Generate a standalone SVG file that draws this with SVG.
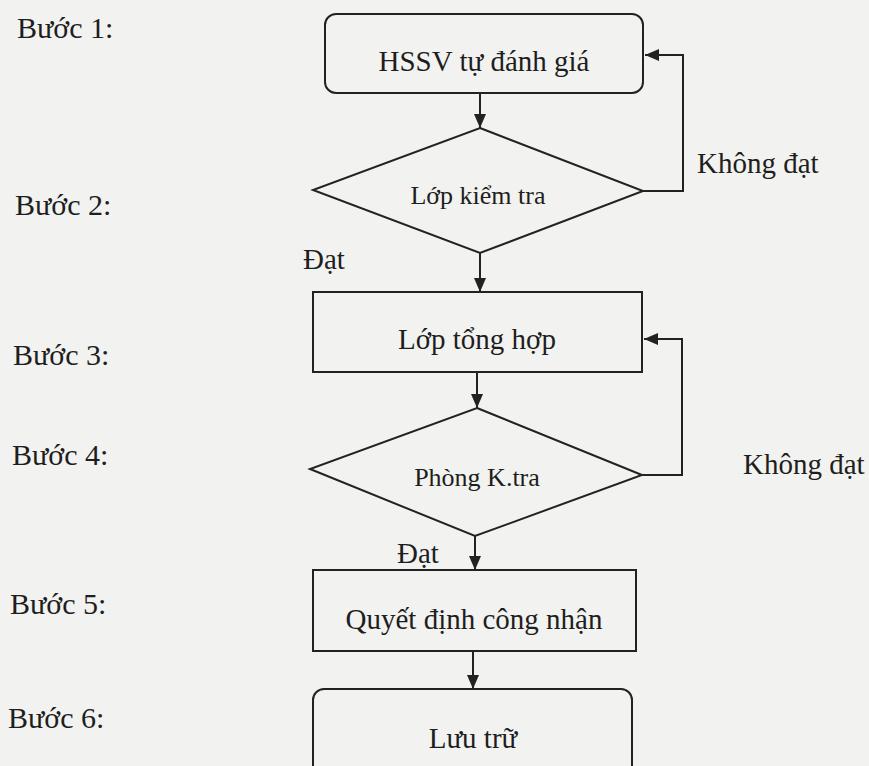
<svg xmlns="http://www.w3.org/2000/svg" width="869" height="766" viewBox="0 0 869 766">
<style>
.bg{fill:#f2f2f0}
.shape{fill:none;stroke:#222;stroke-width:2}
.t{font-family:"Liberation Serif","Times New Roman",serif;fill:#1e1e1e}
.c{text-anchor:middle}
.conn{fill:none;stroke:#222;stroke-width:2}
</style>
<defs>
<marker id="ah" viewBox="0 0 14 12" refX="14" refY="6" markerWidth="14" markerHeight="12" markerUnits="userSpaceOnUse" orient="auto">
<path d="M0,0 L14,6 L0,12 Z" fill="#222"/>
</marker>
</defs>
<rect class="bg" x="0" y="0" width="869" height="766"/>
<g id="steps">
<text class="t" x="17" y="38" font-size="30">Bước 1:</text>
<text class="t" x="15" y="215" font-size="30">Bước 2:</text>
<text class="t" x="13" y="365" font-size="30">Bước 3:</text>
<text class="t" x="12" y="465" font-size="30">Bước 4:</text>
<text class="t" x="10" y="614" font-size="30">Bước 5:</text>
<text class="t" x="8" y="728" font-size="30">Bước 6:</text>
</g>
<g id="n1">
<rect class="shape" x="325" y="14" width="318" height="79" rx="11"/>
<text class="t c" x="484" y="71" font-size="29">HSSV tự đánh giá</text>
</g>
<g id="n2">
<polygon class="shape" points="480,128 643,191 480,253 313,190"/>
<text class="t c" x="478" y="204" font-size="26">Lớp kiểm tra</text>
</g>
<g id="n3">
<rect class="shape" x="313" y="292" width="329" height="80"/>
<text class="t c" x="477" y="349" font-size="29">Lớp tổng hợp</text>
</g>
<g id="n4">
<polygon class="shape" points="477,408 642,475 475,536 310,469"/>
<text class="t c" x="477" y="486" font-size="26">Phòng K.tra</text>
</g>
<g id="n5">
<rect class="shape" x="313" y="570" width="323" height="81"/>
<text class="t c" x="474" y="629" font-size="29">Quyết định công nhận</text>
</g>
<g id="n6">
<rect class="shape" x="313" y="689" width="319" height="90" rx="11"/>
<text class="t c" x="473" y="748" font-size="29">Lưu trữ</text>
</g>
<g id="connectors">
<line class="conn" x1="480" y1="93" x2="480" y2="128" marker-end="url(#ah)"/>
<polyline class="conn" points="643,191 683,191 683,55 645,55" marker-end="url(#ah)"/>
<line class="conn" x1="480" y1="253" x2="480" y2="292" marker-end="url(#ah)"/>
<line class="conn" x1="477" y1="372" x2="477" y2="408" marker-end="url(#ah)"/>
<polyline class="conn" points="642,475 682,475 682,339 644,339" marker-end="url(#ah)"/>
<line class="conn" x1="475" y1="536" x2="475" y2="570" marker-end="url(#ah)"/>
<line class="conn" x1="473" y1="651" x2="473" y2="689" marker-end="url(#ah)"/>
<text class="t" x="697" y="173" font-size="29">Không đạt</text>
<text class="t" x="303" y="269" font-size="29">Đạt</text>
<text class="t" x="743" y="474" font-size="29">Không đạt</text>
<text class="t" x="397" y="563" font-size="29">Đạt</text>
</g>
</svg>
